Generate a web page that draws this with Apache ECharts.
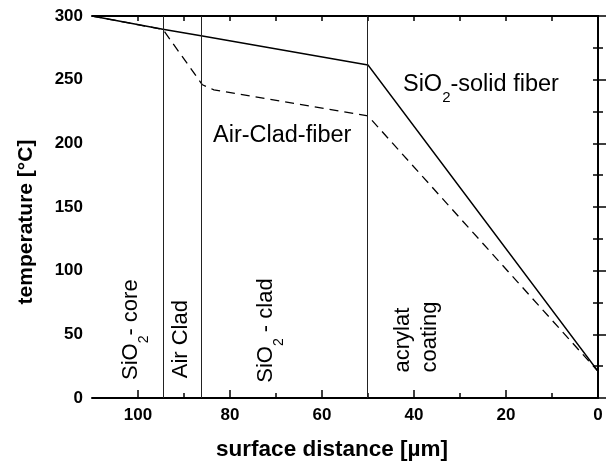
<!DOCTYPE html>
<html><head><meta charset="utf-8">
<script src="https://cdn.jsdelivr.net/npm/echarts@6/dist/echarts.min.js"></script>
<style>html,body{margin:0;padding:0;background:#fff}#c{width:610px;height:463px}</style>
</head><body><div id="c"></div>
<script>
// ---- data ----
const xMajorTicks = [0, 20, 40, 60, 80, 100];
const xMinorTicks = [10, 30, 50, 70, 90];
const xTopTicks = [0, 10, 20, 30, 40, 50, 60, 70, 80, 90, 100];
const solidX = [110, 94.6, 86, 50, 0];
const solidY = [300, 289.6, 284.3, 261.5, 21];
const dashedX = [110, 94.6, 86, 83.5, 50, 0];
const dashedY = [300, 289.5, 246, 242, 221.5, 21];
const boundaries = [94.6, 86.2, 50.1];
const annoTexts = ['{h|Air-Clad-fiber}', '{h|SiO}{hs|2}{h|-solid fiber}', '{t|SiO}{s|2}{t|- core}', '{t|Air Clad}', '{t|SiO}{s|2}{t| - clad}', '{c|acrylat}\n{c|coating}'];
const annoX = [83.7, 42.4, 101.5, 90.7, 72.2, 39.5];
const annoY = [206.5, 246, 14.1, 15.5, 12, 20];
const annoRot = [0, 0, 90, 90, 90, 90];
const xTitle = 'surface distance [µm]';
const yTitle = 'temperature [°C]';

const FF = '"Liberation Sans", Arial, sans-serif';
const chart = echarts.init(document.getElementById('c'), null, {renderer: 'canvas'});
const axisCommon = {
  type: 'value', splitLine: {show: false}, minorSplitLine: {show: false},
  axisLine: {show: true, lineStyle: {color: '#000', width: 2}},
};
const tickStyle = {color: '#000', width: 1.5};
const labelStyle = {color: '#000', fontWeight: 'bold', fontSize: 17, fontFamily: FF};

const option = {
  animation: false,
  backgroundColor: '#fff',
  grid: {left: 92, right: 12, top: 16, bottom: 65, containLabel: false, outerBoundsMode: 'none'},
  xAxis: [
    Object.assign({}, axisCommon, {min: 0, max: 110, inverse: true, position: 'bottom',
      axisTick: {show: true, inside: true, length: 8, customValues: xMajorTicks, lineStyle: tickStyle},
      axisLabel: Object.assign({customValues: xMajorTicks, margin: 9}, labelStyle)}),
    Object.assign({}, axisCommon, {min: 0, max: 110, inverse: true, position: 'bottom',
      axisLine: {show: false},
      axisTick: {show: true, inside: true, length: 5, customValues: xMinorTicks, lineStyle: tickStyle},
      axisLabel: {show: false}}),
    Object.assign({}, axisCommon, {min: 0, max: 110, inverse: true, position: 'top',
      axisTick: {show: true, inside: true, length: 5, customValues: xTopTicks, lineStyle: tickStyle},
      axisLabel: {show: false}})
  ],
  yAxis: [
    Object.assign({}, axisCommon, {min: 0, max: 300, interval: 50, position: 'left',
      axisTick: {show: true, inside: true, length: 8, lineStyle: tickStyle},
      minorTick: {show: true, splitNumber: 2, length: 5, lineStyle: tickStyle},
      axisLabel: Object.assign({margin: 9}, labelStyle)}),
    Object.assign({}, axisCommon, {min: 0, max: 300, interval: 25, position: 'right',
      axisTick: {show: true, inside: true, length: 5, lineStyle: tickStyle},
      axisLabel: {show: false}})
  ],
  series: [
    {type: 'line', name: 'SiO2-solid fiber', xAxisIndex: 0, yAxisIndex: 0, symbol: 'none',
     data: solidX.map((x, i) => [x, solidY[i]]),
     lineStyle: {color: '#000', width: 1.4},
     markLine: {silent: true, symbol: 'none', label: {show: false},
       lineStyle: {color: '#222', width: 1, type: 'solid'},
       data: boundaries.map(v => ({xAxis: v}))}},
    {type: 'line', name: 'Air-Clad-fiber', xAxisIndex: 0, yAxisIndex: 0, symbol: 'none',
     data: dashedX.map((x, i) => [x, dashedY[i]]),
     lineStyle: {color: '#000', width: 1.3, type: [9, 6]}}
  ]
};
chart.setOption(option);

const rich = {
  t: {fontSize: 22, lineHeight: 40, fontFamily: FF, color: '#000'},
  s: {fontSize: 14, verticalAlign: 'bottom', fontFamily: FF, color: '#000'},
  c: {fontSize: 22, lineHeight: 27, fontFamily: FF, color: '#000'},
  h: {fontSize: 23.5, lineHeight: 42, fontFamily: FF, color: '#000'},
  hs: {fontSize: 15, verticalAlign: 'bottom', fontFamily: FF, color: '#000'}
};
const graphics = annoTexts.map((txt, i) => {
  const p = chart.convertToPixel({xAxisIndex: 0, yAxisIndex: 0}, [annoX[i], annoY[i]]);
  return {type: 'text', x: p[0], y: p[1], rotation: annoRot[i] * Math.PI / 180, silent: true,
    style: {text: txt, rich: rich, align: 'left', verticalAlign: 'middle', fill: '#000', fontSize: 22, fontFamily: FF}};
});
graphics.push({type: 'text', x: 332, y: 450, silent: true,
  style: {text: xTitle, align: 'center', verticalAlign: 'middle', fill: '#000', fontSize: 22.5, fontWeight: 'bold', fontFamily: FF}});
graphics.push({type: 'text', x: 26, y: 222, rotation: Math.PI / 2, silent: true,
  style: {text: yTitle, align: 'center', verticalAlign: 'middle', fill: '#000', fontSize: 21, fontWeight: 'bold', fontFamily: FF}});
chart.setOption({graphic: graphics});
</script></body></html>
